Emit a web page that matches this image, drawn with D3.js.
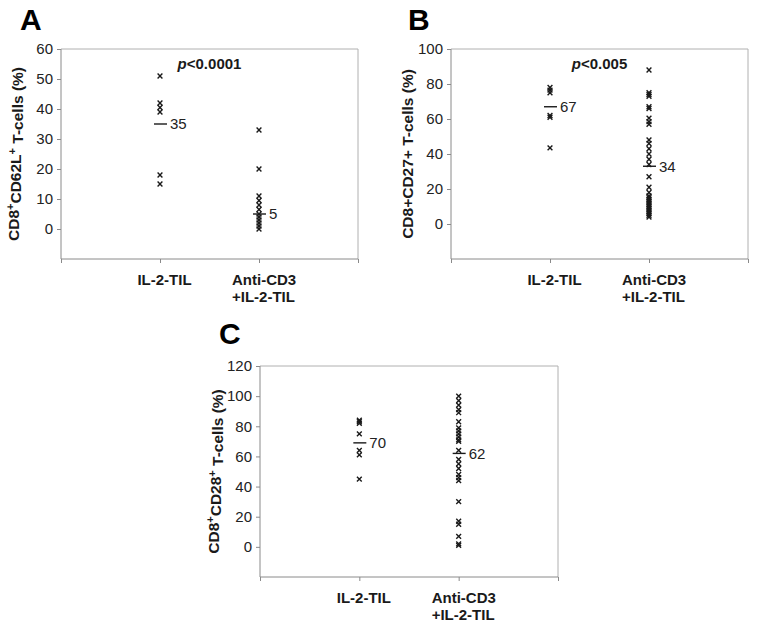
<!DOCTYPE html>
<html><head><meta charset="utf-8">
<script src="https://cdn.jsdelivr.net/npm/d3@7"></script>
<style>
html,body{margin:0;padding:0;background:#fff;}
svg{display:block;font-family:"Liberation Sans",Arial,sans-serif;}
</style></head>
<body><svg id="fig" width="764" height="632"></svg>
<script>
// ---- data ----
const categories = ["IL-2-TIL", ["Anti-CD3", "+IL-2-TIL"]];

const panelLetters = ["A", "B", "C"];
const pLabels = [["p", "<0.0001"], ["p", "<0.005"], null];

const yTicksA = [0, 10, 20, 30, 40, 50, 60];
const yTicksB = [0, 20, 40, 60, 80, 100];
const yTicksC = [0, 20, 40, 60, 80, 100, 120];

const cd62lIL2 = [51, 42, 40.5, 39, 18, 15];
const cd62lAnti = [33, 20, 11, 9.5, 8, 6.5, 5, 4, 3, 2, 1, 0];
const cd27IL2 = [78, 76.5, 75, 62, 61, 43.5];
const cd27Anti = [88, 75, 74, 73, 67, 66, 60.5, 58.5, 57, 48, 46, 43, 40, 37, 34, 27, 21, 18, 16, 15, 14, 13, 12, 11, 10, 9, 8, 7, 6, 5, 4];
const cd28IL2 = [84, 83, 82, 75, 64, 61, 45];
const cd28Anti = [100, 97, 94, 91, 89, 83, 79, 77, 75, 73, 71, 70, 64, 58, 55, 52, 48, 46, 44, 30, 17, 15, 7, 2, 1];

const centerLinesA = [35, 5];
const centerLinesB = [67, 33];
const centerLinesC = [69, 62];
const centerLabelsA = ["35", "5"];
const centerLabelsB = ["67", "34"];
const centerLabelsC = ["70", "62"];

// ---- layout ----
const panels = [
  {letter: panelLetters[0], p: pLabels[0], left: 61, top: 49, w: 297, h: 210, domain: [-10, 60], ticks: yTicksA,
   series: [cd62lIL2, cd62lAnti], lines: centerLinesA, labels: centerLabelsA,
   title: [["CD8", 0], ["+", 1], ["CD62L", 0], ["+", 1], [" T-cells (%)", 0]], titleX: 19, letterX: 20, letterY: 30},
  {letter: panelLetters[1], p: pLabels[1], left: 451, top: 49, w: 297, h: 210, domain: [-20, 100], ticks: yTicksB,
   series: [cd27IL2, cd27Anti], lines: centerLinesB, labels: centerLabelsB,
   title: [["CD8+CD27+ T-cells (%)", 0]], titleX: 413, letterX: 408, letterY: 30},
  {letter: panelLetters[2], p: pLabels[2], left: 260, top: 366, w: 298, h: 211, domain: [-20, 120], ticks: yTicksC,
   series: [cd28IL2, cd28Anti], lines: centerLinesC, labels: centerLabelsC,
   title: [["CD8", 0], ["+", 1], ["CD28", 0], ["+", 1], [" T-cells (%)", 0]], titleX: 219, letterX: 219, letterY: 344}
];

const svg = d3.select("#fig");
const axisColor = "#8a8a8a";
const ink = "#1a1a1a";

panels.forEach(P => {
  const g = svg.append("g").attr("transform", `translate(${P.left},${P.top})`);
  const x = d3.scaleLinear().domain([0, 3]).range([0, P.w]);
  const y = d3.scaleLinear().domain(P.domain).range([P.h, 0]);

  // plot border (top/right)
  g.append("path").attr("d", `M0,0H${P.w}V${P.h}`).attr("fill", "none").attr("stroke", "#b0b0b0").attr("stroke-width", 1);

  // y axis
  const ya = g.append("g").call(d3.axisLeft(y).tickValues(P.ticks).tickSize(4).tickPadding(4).tickFormat(d3.format("d")));
  ya.select(".domain").attr("stroke", axisColor).attr("d", `M0,${P.h}V0`);
  ya.selectAll(".tick line").attr("stroke", axisColor);
  ya.selectAll(".tick text").attr("font-size", 15).attr("fill", "#222").attr("font-family", "Liberation Sans, Arial, sans-serif");

  // x axis
  const xa = g.append("g").attr("transform", `translate(0,${P.h})`)
    .call(d3.axisBottom(x).tickValues([0, 1, 2, 3]).tickSize(4).tickFormat(""));
  xa.select(".domain").attr("stroke", axisColor).attr("d", `M0,0H${P.w}`);
  xa.selectAll(".tick line").attr("stroke", axisColor);

  // category labels
  categories.forEach((c, i) => {
    const cx = x(i + 1);
    if (Array.isArray(c)) {
      const t = g.append("text").attr("font-size", 15).attr("font-weight", "bold").attr("fill", ink)
        .attr("text-anchor", "start");
      c.forEach((line, k) => t.append("tspan").attr("x", cx - 27).attr("y", P.h + 26 + k * 17).text(line));
    } else {
      g.append("text").attr("x", cx + 4.5).attr("y", P.h + 26).attr("text-anchor", "middle")
        .attr("font-size", 15).attr("font-weight", "bold").attr("fill", ink).text(c);
    }
  });

  // markers
  P.series.forEach((vals, i) => {
    const cx = x(i + 1);
    g.append("g").selectAll("path").data(vals).join("path")
      .attr("d", d => { const cy = y(d), s = 2.4; return `M${cx - s},${cy - s}L${cx + s},${cy + s}M${cx - s},${cy + s}L${cx + s},${cy - s}`; })
      .attr("stroke", ink).attr("stroke-width", 1.4).attr("fill", "none");
  });

  // center lines + labels
  P.lines.forEach((v, i) => {
    const cx = x(i + 1);
    g.append("line").attr("x1", cx - 6).attr("x2", cx + 7).attr("y1", y(v)).attr("y2", y(v))
      .attr("stroke", ink).attr("stroke-width", 1.4);
    g.append("text").attr("x", cx + 10).attr("y", y(v)).attr("dy", "0.36em")
      .attr("font-size", 15).attr("fill", "#222").text(P.labels[i]);
  });

  // p-value
  if (P.p) {
    const t = g.append("text").attr("x", x(1.5)).attr("y", 20).attr("text-anchor", "middle")
      .attr("font-size", 15).attr("font-weight", "bold").attr("fill", ink);
    t.append("tspan").attr("font-style", "italic").text(P.p[0]);
    t.append("tspan").text(P.p[1]);
  }

  // y title
  const tt = svg.append("text").attr("transform", `translate(${P.titleX},${P.top + P.h / 2}) rotate(-90)`)
    .attr("text-anchor", "middle").attr("font-size", 15.5).attr("font-weight", "bold").attr("fill", ink);
  let sup = false;
  P.title.forEach(([s, isSup]) => {
    const ts = tt.append("tspan").text(s);
    if (isSup && !sup) { ts.attr("dy", "-0.45em").attr("font-size", 11); sup = true; }
    else if (!isSup && sup) { ts.attr("dy", "0.45em"); sup = false; }
    else if (isSup) { ts.attr("font-size", 11); }
  });

  // panel letter
  svg.append("text").attr("x", P.letterX).attr("y", P.letterY).attr("font-size", 30).attr("font-weight", "bold")
    .attr("fill", "#000").text(P.letter);
});
</script>
</body></html>
